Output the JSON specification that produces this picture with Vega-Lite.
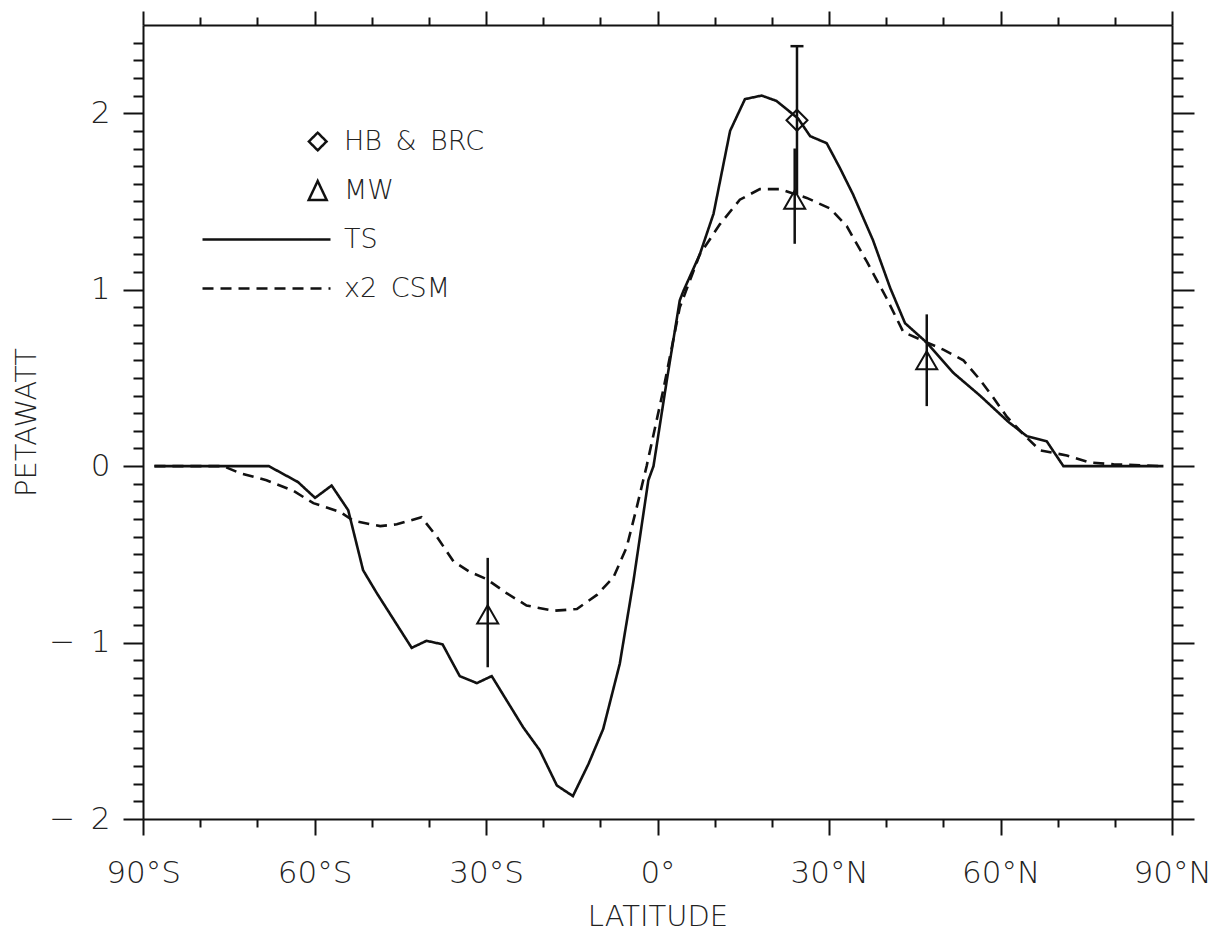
{
  "$schema": "https://vega.github.io/schema/vega-lite/v6.json",
  "width": 1029,
  "height": 794,
  "autosize": {"type": "none"},
  "padding": {"left": 143, "top": 25, "right": 49, "bottom": 113},
  "background": "white",
  "config": {
    "view": {"stroke": null},
    "font": "DejaVu Sans",
    "axis": {
      "grid": false,
      "domainColor": "#111",
      "domainWidth": 2,
      "tickColor": "#111",
      "tickWidth": 2,
      "labelFont": "DejaVu Sans",
      "labelFontSize": 31,
      "labelFontWeight": 200,
      "labelColor": "#222",
      "titleFont": "DejaVu Sans",
      "titleFontSize": 29,
      "titleFontWeight": 200,
      "titleColor": "#222",
      "labelFlush": false,
      "labelOverlap": false
    }
  },
  "datasets": {
    "curves": [
      {"series": "TS", "lat": -88, "pw": 0},
      {"series": "TS", "lat": -68, "pw": 0},
      {"series": "TS", "lat": -62.9, "pw": -0.09},
      {"series": "TS", "lat": -59.9, "pw": -0.18},
      {"series": "TS", "lat": -57.0, "pw": -0.11},
      {"series": "TS", "lat": -54.1, "pw": -0.25},
      {"series": "TS", "lat": -51.5, "pw": -0.59},
      {"series": "TS", "lat": -49.1, "pw": -0.72},
      {"series": "TS", "lat": -43.0, "pw": -1.03},
      {"series": "TS", "lat": -40.4, "pw": -0.99},
      {"series": "TS", "lat": -37.6, "pw": -1.01},
      {"series": "TS", "lat": -34.6, "pw": -1.19},
      {"series": "TS", "lat": -31.6, "pw": -1.23},
      {"series": "TS", "lat": -29.0, "pw": -1.19},
      {"series": "TS", "lat": -23.5, "pw": -1.48},
      {"series": "TS", "lat": -20.6, "pw": -1.61},
      {"series": "TS", "lat": -17.6, "pw": -1.81},
      {"series": "TS", "lat": -14.8, "pw": -1.87},
      {"series": "TS", "lat": -12.1, "pw": -1.69},
      {"series": "TS", "lat": -9.5, "pw": -1.49},
      {"series": "TS", "lat": -6.6, "pw": -1.12},
      {"series": "TS", "lat": -4.2, "pw": -0.65},
      {"series": "TS", "lat": -1.6, "pw": -0.08},
      {"series": "TS", "lat": -0.7, "pw": 0},
      {"series": "TS", "lat": 1.6, "pw": 0.48},
      {"series": "TS", "lat": 3.9, "pw": 0.94},
      {"series": "TS", "lat": 4.5, "pw": 0.99},
      {"series": "TS", "lat": 7.4, "pw": 1.20},
      {"series": "TS", "lat": 9.8, "pw": 1.43},
      {"series": "TS", "lat": 12.7, "pw": 1.90},
      {"series": "TS", "lat": 15.3, "pw": 2.08},
      {"series": "TS", "lat": 18.2, "pw": 2.10},
      {"series": "TS", "lat": 20.8, "pw": 2.07},
      {"series": "TS", "lat": 24.6, "pw": 1.97},
      {"series": "TS", "lat": 26.7, "pw": 1.87},
      {"series": "TS", "lat": 29.6, "pw": 1.83},
      {"series": "TS", "lat": 31.9, "pw": 1.69},
      {"series": "TS", "lat": 34.2, "pw": 1.54},
      {"series": "TS", "lat": 37.7, "pw": 1.28},
      {"series": "TS", "lat": 40.7, "pw": 1.01},
      {"series": "TS", "lat": 43.3, "pw": 0.81},
      {"series": "TS", "lat": 47.1, "pw": 0.70},
      {"series": "TS", "lat": 51.7, "pw": 0.53},
      {"series": "TS", "lat": 56.4, "pw": 0.40},
      {"series": "TS", "lat": 61.4, "pw": 0.25},
      {"series": "TS", "lat": 64.6, "pw": 0.17},
      {"series": "TS", "lat": 68.1, "pw": 0.14},
      {"series": "TS", "lat": 71.0, "pw": 0.0},
      {"series": "TS", "lat": 88.5, "pw": 0.0},
      {"series": "x2 CSM", "lat": -88, "pw": 0},
      {"series": "x2 CSM", "lat": -76, "pw": 0},
      {"series": "x2 CSM", "lat": -73, "pw": -0.04},
      {"series": "x2 CSM", "lat": -68.4, "pw": -0.08},
      {"series": "x2 CSM", "lat": -63.7, "pw": -0.14},
      {"series": "x2 CSM", "lat": -60.2, "pw": -0.21},
      {"series": "x2 CSM", "lat": -55.5, "pw": -0.26},
      {"series": "x2 CSM", "lat": -53.2, "pw": -0.31},
      {"series": "x2 CSM", "lat": -48.5, "pw": -0.34},
      {"series": "x2 CSM", "lat": -45.6, "pw": -0.33},
      {"series": "x2 CSM", "lat": -41.3, "pw": -0.29},
      {"series": "x2 CSM", "lat": -38.6, "pw": -0.40},
      {"series": "x2 CSM", "lat": -35.7, "pw": -0.54},
      {"series": "x2 CSM", "lat": -32.8, "pw": -0.60},
      {"series": "x2 CSM", "lat": -29.9, "pw": -0.64},
      {"series": "x2 CSM", "lat": -26.4, "pw": -0.72},
      {"series": "x2 CSM", "lat": -22.9, "pw": -0.79},
      {"series": "x2 CSM", "lat": -18.2, "pw": -0.82},
      {"series": "x2 CSM", "lat": -14.1, "pw": -0.81},
      {"series": "x2 CSM", "lat": -10.6, "pw": -0.73},
      {"series": "x2 CSM", "lat": -7.7, "pw": -0.63},
      {"series": "x2 CSM", "lat": -5.4, "pw": -0.46},
      {"series": "x2 CSM", "lat": -3.6, "pw": -0.23},
      {"series": "x2 CSM", "lat": -2.5, "pw": -0.08},
      {"series": "x2 CSM", "lat": -1.9, "pw": 0},
      {"series": "x2 CSM", "lat": 1.0, "pw": 0.43},
      {"series": "x2 CSM", "lat": 3.9, "pw": 0.90},
      {"series": "x2 CSM", "lat": 7.4, "pw": 1.20},
      {"series": "x2 CSM", "lat": 10.9, "pw": 1.37},
      {"series": "x2 CSM", "lat": 14.4, "pw": 1.51},
      {"series": "x2 CSM", "lat": 17.9, "pw": 1.57},
      {"series": "x2 CSM", "lat": 21.4, "pw": 1.57},
      {"series": "x2 CSM", "lat": 26.1, "pw": 1.52},
      {"series": "x2 CSM", "lat": 30.2, "pw": 1.46},
      {"series": "x2 CSM", "lat": 33.1, "pw": 1.36},
      {"series": "x2 CSM", "lat": 36.6, "pw": 1.16},
      {"series": "x2 CSM", "lat": 40.1, "pw": 0.95},
      {"series": "x2 CSM", "lat": 43.0, "pw": 0.76},
      {"series": "x2 CSM", "lat": 46.5, "pw": 0.71},
      {"series": "x2 CSM", "lat": 50.0, "pw": 0.66},
      {"series": "x2 CSM", "lat": 53.5, "pw": 0.60},
      {"series": "x2 CSM", "lat": 56.4, "pw": 0.49},
      {"series": "x2 CSM", "lat": 58.7, "pw": 0.39},
      {"series": "x2 CSM", "lat": 61.1, "pw": 0.28},
      {"series": "x2 CSM", "lat": 64.0, "pw": 0.18},
      {"series": "x2 CSM", "lat": 66.9, "pw": 0.09},
      {"series": "x2 CSM", "lat": 71.6, "pw": 0.06},
      {"series": "x2 CSM", "lat": 75.7, "pw": 0.02},
      {"series": "x2 CSM", "lat": 79.8, "pw": 0.01},
      {"series": "x2 CSM", "lat": 88.5, "pw": 0}
    ],
    "obs": [
      {"series": "MW", "lat": -29.7, "pw": -0.84, "lo": -1.14, "hi": -0.52},
      {"series": "MW", "lat": 24.0, "pw": 1.51, "lo": 1.26, "hi": 1.80},
      {"series": "MW", "lat": 47.1, "pw": 0.60, "lo": 0.34, "hi": 0.86},
      {"series": "HB & BRC", "lat": 24.4, "pw": 1.96, "lo": 1.54, "hi": 2.38}
    ]
  },
  "resolve": {"axis": {"x": "independent", "y": "independent"}},
  "layer": [
    {
      "mark": {"type": "rule", "stroke": "#111", "strokeWidth": 1.5},
      "encoding": {
        "y": {"datum": 0, "type": "quantitative", "scale": {"domain": [-2, 2.5], "nice": false, "zero": false}, "axis": null}
      }
    },
    {
      "data": {"name": "curves"},
      "mark": {"type": "line", "stroke": "#111", "strokeWidth": 2.6},
      "encoding": {
        "x": {
          "field": "lat", "type": "quantitative",
          "scale": {"domain": [-90, 90], "nice": false, "zero": false},
          "axis": {
            "orient": "bottom", "values": [-90, -60, -30, 0, 30, 60, 90], "tickSize": 16, "labelPadding": 23,
            "labelExpr": "datum.value < 0 ? (-datum.value) + '°S' : (datum.value > 0 ? datum.value + '°N' : '0°')",
            "title": "LATITUDE", "titleY": 106, "titleBaseline": "alphabetic"
          }
        },
        "y": {
          "field": "pw", "type": "quantitative",
          "scale": {"domain": [-2, 2.5], "nice": false, "zero": false},
          "axis": {
            "orient": "left", "values": [-2, -1, 0, 1, 2], "tickSize": 20, "labelPadding": 13,
            "labelExpr": "datum.value < 0 ? '−\u2002' + (-datum.value) : '' + datum.value",
            "title": "PETAWATT", "titleX": -108, "titleBaseline": "alphabetic"
          }
        },
        "strokeDash": {
          "field": "series", "type": "nominal",
          "scale": {"domain": ["HB & BRC", "MW", "TS", "x2 CSM"], "range": [[1, 0], [1, 0], [1, 0], [11, 7]]},
          "legend": {
            "orient": "none", "legendX": 58, "legendY": 92, "title": null,
            "symbolSize": 16384, "symbolStrokeWidth": 2.5, "symbolStrokeColor": "#111", "symbolFillColor": "transparent",
            "labelFont": "DejaVu Sans", "labelFontSize": 27, "labelFontWeight": 200, "labelColor": "#222",
            "labelOffset": 12, "clipHeight": 49, "rowPadding": 0, "padding": 0,
            "labelExpr": "datum.label === 'HB & BRC' ? 'HB\u2002&\u2002BRC' : (datum.label === 'x2 CSM' ? 'x2\u2002CSM' : datum.label)",
            "encode": {
              "symbols": {
                "update": {
                  "shape": {"signal": "datum.value === 'HB & BRC' ? 'M0.662,0L0.8,-0.138L0.938,0L0.8,0.138Z' : (datum.value === 'MW' ? 'M0.8,-0.148L0.94,0.148L0.66,0.148Z' : 'M-1,0L1,0')"},
                  "fill": {"value": "transparent"},
                  "stroke": {"value": "#111"}
                }
              }
            }
          }
        }
      }
    },
    {
      "data": {"name": "obs"},
      "mark": {"type": "rule", "stroke": "#111", "strokeWidth": 2.5},
      "encoding": {
        "x": {
          "field": "lat", "type": "quantitative",
          "scale": {"domain": [-90, 90], "nice": false, "zero": false},
          "axis": {"orient": "bottom", "values": [-80, -70, -50, -40, -20, -10, 10, 20, 40, 50, 70, 80], "tickSize": 8, "labels": false, "domain": false, "title": null}
        },
        "y": {
          "field": "lo", "type": "quantitative",
          "scale": {"domain": [-2, 2.5], "nice": false, "zero": false},
          "axis": {"orient": "left", "values": [-1.9, -1.8, -1.7, -1.6, -1.5, -1.4, -1.3, -1.2, -1.1, -0.9, -0.8, -0.7, -0.6, -0.5, -0.4, -0.3, -0.2, -0.1, 0.1, 0.2, 0.3, 0.4, 0.5, 0.6, 0.7, 0.8, 0.9, 1.1, 1.2, 1.3, 1.4, 1.5, 1.6, 1.7, 1.8, 1.9, 2.1, 2.2, 2.3, 2.4], "tickSize": 10, "labels": false, "domain": false, "title": null}
        },
        "y2": {"field": "hi"}
      }
    },
    {
      "data": {"name": "obs"},
      "mark": {"type": "point", "filled": false, "stroke": "#111", "strokeWidth": 2, "size": 441, "opacity": 1},
      "encoding": {
        "x": {
          "field": "lat", "type": "quantitative",
          "scale": {"domain": [-90, 90], "nice": false, "zero": false},
          "axis": {"orient": "top", "values": [-90, -60, -30, 0, 30, 60, 90], "tickSize": 14, "labels": false, "title": null}
        },
        "y": {
          "field": "pw", "type": "quantitative",
          "scale": {"domain": [-2, 2.5], "nice": false, "zero": false},
          "axis": {"orient": "right", "values": [-2, -1, 0, 1, 2], "tickSize": 22, "labels": false, "title": null}
        },
        "shape": {
          "field": "series", "type": "nominal",
          "scale": {"domain": ["HB & BRC", "MW"], "range": ["diamond", "triangle-up"]},
          "legend": null
        }
      }
    },
    {
      "data": {"name": "obs"},
      "transform": [{"filter": "datum.series === 'HB & BRC'"}],
      "mark": {"type": "point", "shape": "stroke", "size": 169, "filled": false, "stroke": "#111", "strokeWidth": 2.5, "opacity": 1},
      "encoding": {
        "x": {
          "field": "lat", "type": "quantitative",
          "scale": {"domain": [-90, 90], "nice": false, "zero": false},
          "axis": {"orient": "top", "values": [-80, -70, -50, -40, -20, -10, 10, 20, 40, 50, 70, 80], "tickSize": 8, "labels": false, "domain": false, "title": null}
        },
        "y": {
          "field": "hi", "type": "quantitative",
          "scale": {"domain": [-2, 2.5], "nice": false, "zero": false},
          "axis": {"orient": "right", "values": [-1.9, -1.8, -1.7, -1.6, -1.5, -1.4, -1.3, -1.2, -1.1, -0.9, -0.8, -0.7, -0.6, -0.5, -0.4, -0.3, -0.2, -0.1, 0.1, 0.2, 0.3, 0.4, 0.5, 0.6, 0.7, 0.8, 0.9, 1.1, 1.2, 1.3, 1.4, 1.5, 1.6, 1.7, 1.8, 1.9, 2.1, 2.2, 2.3, 2.4], "tickSize": 11, "labels": false, "domain": false, "title": null}
        }
      }
    }
  ]
}
